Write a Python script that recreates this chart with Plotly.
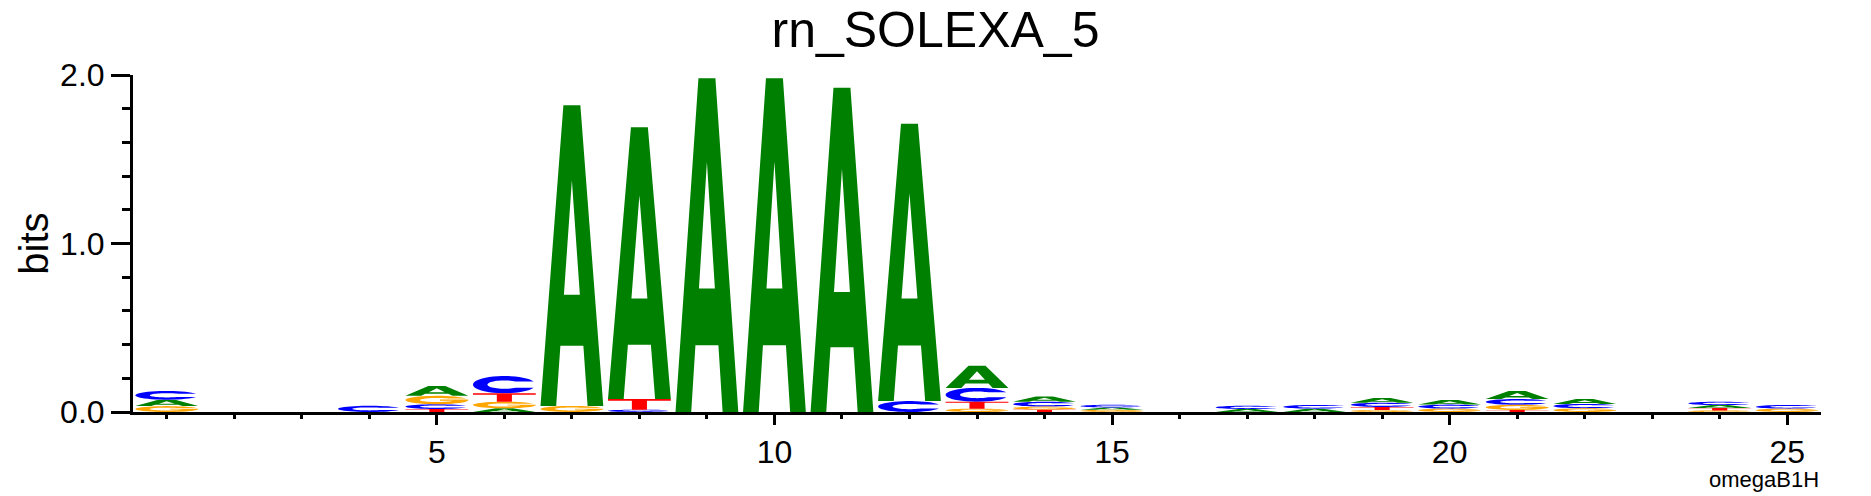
import numpy as np
import plotly.graph_objects as go

# information content (bits) per position
positions = list(range(1, 26))
a_bits = [0.038, 0, 0, 0, 0.059, 0.022, 1.785, 1.613, 1.98, 1.98, 1.925, 1.645, 0.131,
          0.031, 0.014, 0, 0.018, 0.020, 0.028, 0.027, 0.048, 0.029, 0, 0.017, 0]
c_bits = [0.052, 0, 0, 0.037, 0.028, 0.103, 0, 0.014, 0, 0, 0, 0.065, 0.082,
          0.029, 0.016, 0, 0.019, 0.022, 0.025, 0.024, 0.034, 0.026, 0, 0.020, 0.022]
g_bits = [0.035, 0, 0, 0, 0.050, 0.039, 0.036, 0, 0, 0, 0, 0, 0.020,
          0.018, 0.013, 0, 0, 0, 0.012, 0.020, 0.031, 0.022, 0, 0.009, 0.020]
t_bits = [0, 0, 0, 0, 0.018, 0.050, 0, 0.063, 0, 0, 0, 0, 0.041,
          0.014, 0, 0, 0, 0, 0.018, 0, 0.012, 0, 0, 0.015, 0]
x_ticks = [5, 10, 15, 20, 25]

_COLORS = {"A": "#008000", "C": "#0000ff", "G": "#ffa500", "T": "#ff0000"}
_FONT = "Liberation Sans"
_LETTER_W = 0.93


def _arc(rx, ry, a0, a1, n=40):
    t = np.radians(np.linspace(a0, a1, n))
    return list(zip(0.5 + rx * np.cos(t), 0.5 + ry * np.sin(t)))


def _glyph(letter):
    # outlines in a unit box; holes are wound the other way
    if letter == "A":
        outer = [(0, 0), (0.25, 0), (0.317, 0.2), (0.683, 0.2), (0.75, 0), (1, 0),
                 (0.635, 1), (0.365, 1), (0, 0)]
        hole = [(0.373, 0.37), (0.5, 0.75), (0.627, 0.37), (0.373, 0.37)]
        return [outer, hole]
    if letter == "C":
        pts = _arc(0.5, 0.5, 21, 339) + _arc(0.27, 0.24, 311.4, 48.6)
        return [pts + [pts[0]]]
    if letter == "G":
        pts = (_arc(0.5, 0.5, 21, 360)
               + [(1.0, 0.55), (0.55, 0.55), (0.55, 0.42)]
               + _arc(0.27, 0.24, 340.5, 48.6))
        return [pts + [pts[0]]]
    pts = [(0, 1), (1, 1), (1, 0.84), (0.62, 0.84), (0.62, 0), (0.38, 0),
           (0.38, 0.84), (0, 0.84), (0, 1)]
    return [pts]


bits = {"A": a_bits, "C": c_bits, "G": g_bits, "T": t_bits}
xs = {k: [] for k in bits}
ys = {k: [] for k in bits}
for i, pos in enumerate(positions):
    # weblogo order: smallest at the bottom
    stack = sorted(((bits[k][i], k) for k in "TGCA" if bits[k][i] > 0))
    base = 0.0
    for h, k in stack:
        for ring in _glyph(k):
            for u, v in ring:
                xs[k].append(pos - _LETTER_W / 2 + u * _LETTER_W)
                ys[k].append(base + v * h)
            xs[k].append(None)
            ys[k].append(None)
        base += h

fig = go.Figure()
for k in "ACGT":
    fig.add_trace(go.Scatter(
        x=xs[k], y=ys[k], mode="lines", fill="toself",
        fillcolor=_COLORS[k], line=dict(width=0, color=_COLORS[k], simplify=False),
        hoverinfo="skip", showlegend=False,
    ))

axis_common = dict(
    showline=True, linecolor="black", linewidth=3, ticks="outside",
    tickcolor="black", tickwidth=3, showgrid=False, zeroline=False,
    automargin=False,
    tickfont=dict(family=_FONT, size=32, color="black"),
)
fig.update_xaxes(
    range=[0.5, 25.5], tickmode="array", tickvals=x_ticks, ticklen=10,
    minor=dict(ticks="outside", tickmode="array", tickvals=positions,
               ticklen=4, tickwidth=3, tickcolor="black"),
    **axis_common,
)
fig.update_yaxes(
    range=[0, 2.0], dtick=1, tick0=0, tickformat=".1f", ticklen=19,
    minor=dict(ticks="outside", dtick=0.2, ticklen=8, tickwidth=3, tickcolor="black"),
    title=dict(text="bits", font=dict(family=_FONT, size=40, color="black"), standoff=0),
    **axis_common,
)
fig.update_layout(
    width=1871, height=496,
    margin=dict(l=133, r=50, t=75, b=84, autoexpand=False),
    paper_bgcolor="white", plot_bgcolor="white",
    font=dict(family=_FONT, color="black"),
    title=dict(text="rn_SOLEXA_5", x=0.5, xref="container", xanchor="center",
               y=0.94, yref="container", yanchor="middle",
               font=dict(family=_FONT, size=50, color="black")),
    annotations=[dict(text="omegaB1H", xref="paper", yref="paper", x=1.0, y=-0.2,
                      xanchor="right", yanchor="middle", showarrow=False,
                      font=dict(family=_FONT, size=22, color="black"))],
)
# drop the browser's default 8px body margin so the figure sits at the page origin
fig.write_html("out.html", config={"displayModeBar": False},
               post_script="document.body.style.margin = '0';")
